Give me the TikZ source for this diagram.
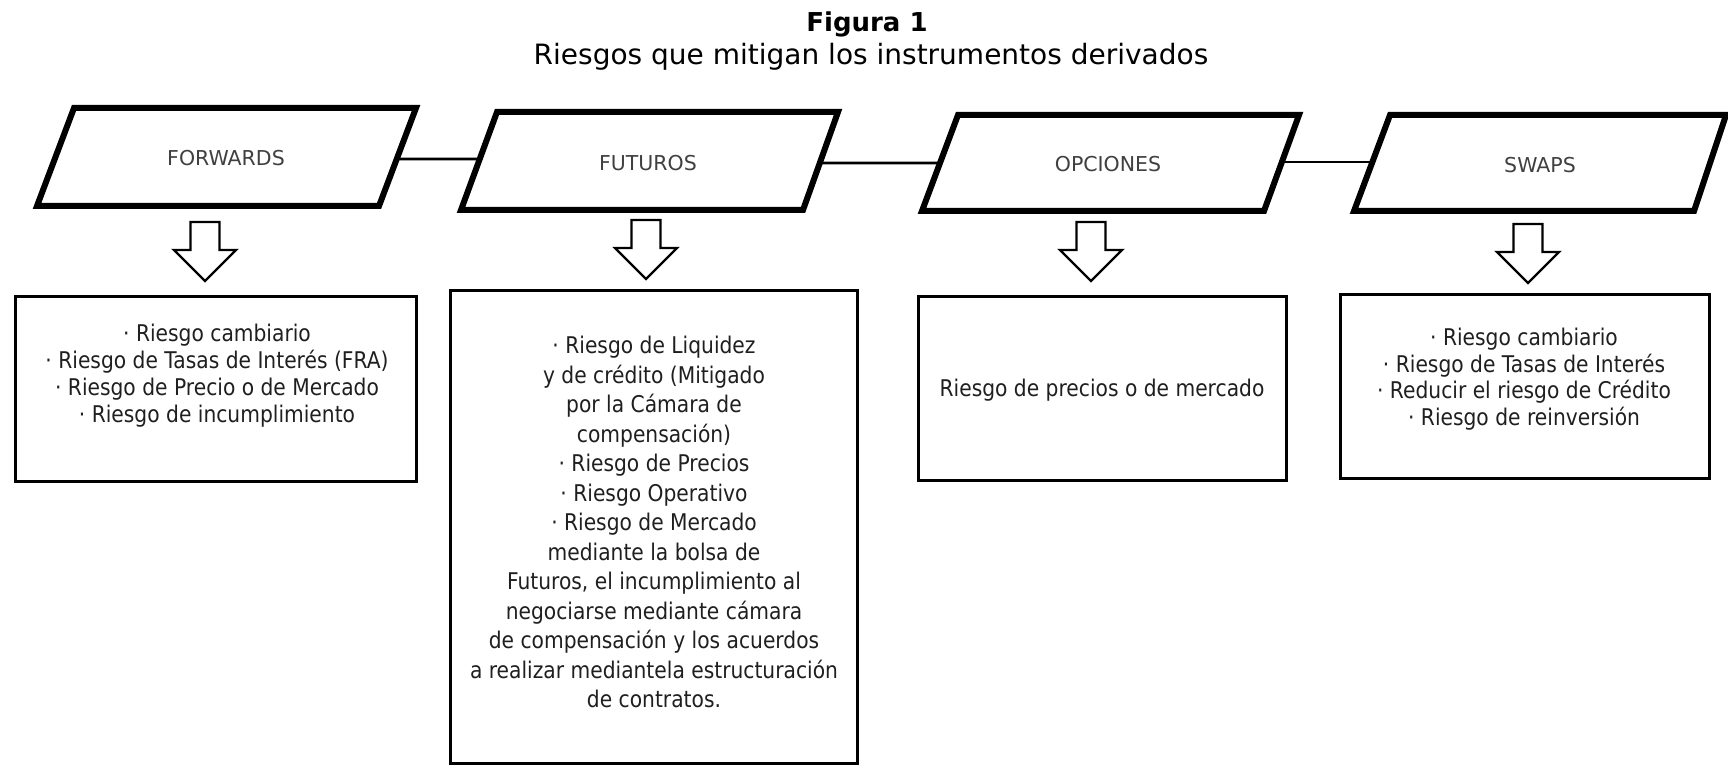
\documentclass[tikz,border=0pt]{standalone}
\usepackage{fontspec}
\setmainfont{DejaVu Sans}
\newfontfamily\boxfont[FakeStretch=0.88]{DejaVu Sans}
\usetikzlibrary{calc}
\tikzset{
  para/.style={line width=6pt, line join=miter, fill=white},
  conn/.style={line width=2.8pt},
  riskbox/.style={draw, line width=2.6pt, inner sep=0pt, outer sep=0pt},
  boxtext/.style={align=center, font=\boxfont\fontsize{23}{27}\selectfont, text=black!88, inner sep=0pt},
  lbl/.style={font=\fontsize{20.5}{24}\selectfont, text=black!75, inner sep=0pt},
  hollowarrow/.pic={\draw[line width=2.4pt, line join=miter] (-14.5,0) -- (14.5,0) -- (14.5,28) -- (31,28) -- (0,59) -- (-31,28) -- (-14.5,28) -- cycle;}
}
\begin{document}
\begin{tikzpicture}[x=1pt, y=-1pt]
\useasboundingbox (0,0) rectangle (1728,767);
% title
\node[font=\bfseries\fontsize{26}{30}\selectfont, inner sep=0pt] (fig) at (867,24) {Figura 1};
\node[font=\fontsize{28}{32}\selectfont, inner sep=0pt] (sub) at (871,57) {Riesgos que mitigan los instrumentos derivados};
% parallelogram corners
\coordinate (fwTL) at (74,108);  \coordinate (fwTR) at (416,108);  \coordinate (fwBR) at (379,206);  \coordinate (fwBL) at (37,206);
\coordinate (fuTL) at (497,112); \coordinate (fuTR) at (838,112);  \coordinate (fuBR) at (803,210);  \coordinate (fuBL) at (461,210);
\coordinate (opTL) at (958,115); \coordinate (opTR) at (1299,115); \coordinate (opBR) at (1264,211); \coordinate (opBL) at (922,211);
\coordinate (swTL) at (1390,115);\coordinate (swTR) at (1726,115); \coordinate (swBR) at (1694,211); \coordinate (swBL) at (1354,211);
% connectors
\draw[conn] ($(fwTR)!0.52!(fwBR)$) -- ($(fuTL)!0.48!(fuBL)$);
\draw[conn] ($(fuTR)!0.52!(fuBR)$) -- ($(opTL)!0.5!(opBL)$);
\draw[conn] ($(opTR)!0.49!(opBR)$) -- ($(swTL)!0.49!(swBL)$);
% parallelograms
\draw[para] (fwTL) -- (fwTR) -- (fwBR) -- (fwBL) -- cycle;
\draw[para] (fuTL) -- (fuTR) -- (fuBR) -- (fuBL) -- cycle;
\draw[para] (opTL) -- (opTR) -- (opBR) -- (opBL) -- cycle;
\draw[para] (swTL) -- (swTR) -- (swBR) -- (swBL) -- cycle;
\node[lbl] (fw) at (226,158) {FORWARDS};
\node[lbl] (fu) at (648,163) {FUTUROS};
\node[lbl] (op) at (1108,164) {OPCIONES};
\node[lbl] (sw) at (1540,165) {SWAPS};
% hollow arrows
\pic at (205,222) {hollowarrow};
\pic at (646,220) {hollowarrow};
\pic at (1091,222) {hollowarrow};
\pic at (1528,224) {hollowarrow};
% boxes
\node[riskbox, minimum width=401pt, minimum height=185pt] (b1) at (216,389) {};
\node[riskbox, minimum width=407pt, minimum height=473pt] (b2) at (654,527) {};
\node[riskbox, minimum width=368pt, minimum height=184pt] (b3) at (1102.5,388.5) {};
\node[riskbox, minimum width=369pt, minimum height=184pt] (b4) at (1525,386.5) {};
\node[boxtext] (t1) at (217,376) {· Riesgo cambiario\\· Riesgo de Tasas de Interés (FRA)\\· Riesgo de Precio o de Mercado\\· Riesgo de incumplimiento};
\node[boxtext, font=\boxfont\fontsize{23}{29.5}\selectfont] (t2) at (654,522) {· Riesgo de Liquidez\\y de crédito (Mitigado\\por la Cámara de\\compensación)\\· Riesgo de Precios\\· Riesgo Operativo\\· Riesgo de Mercado\\mediante la bolsa de\\Futuros, el incumplimiento al\\negociarse mediante cámara\\de compensación y los acuerdos\\a realizar mediantela estructuración\\de contratos.};
\node[boxtext] (t3) at (1102,390) {Riesgo de precios o de mercado};
\node[boxtext, font=\boxfont\fontsize{23}{26.5}\selectfont] (t4) at (1524,379) {· Riesgo cambiario\\· Riesgo de Tasas de Interés\\· Reducir el riesgo de Crédito\\· Riesgo de reinversión};
\end{tikzpicture}
\end{document}
